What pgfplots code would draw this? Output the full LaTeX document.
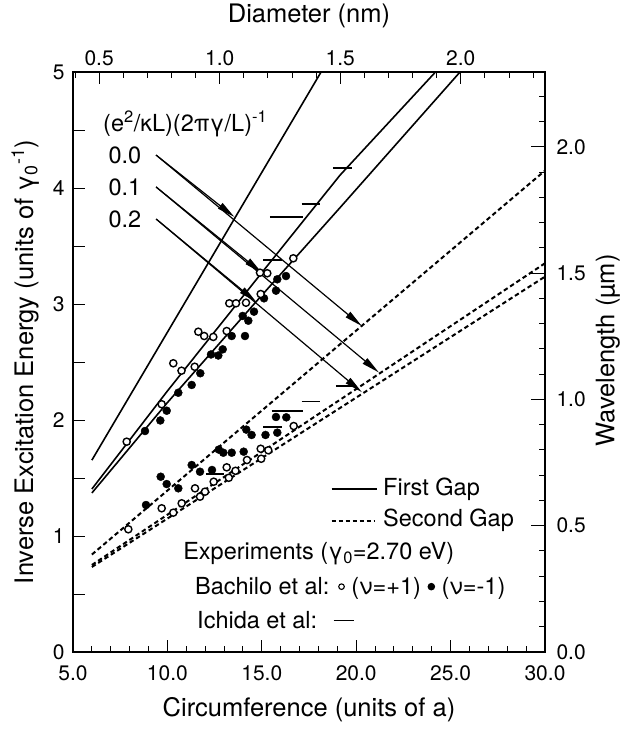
\documentclass[border=0pt]{standalone}
\usepackage{fontspec}
\setmainfont{TeX Gyre Heros}
\usepackage{pgfplots}
\pgfplotsset{compat=1.18}
\usetikzlibrary{arrows.meta}

\newcommand{\tickfont}{\fontsize{21}{21}\selectfont}
\newcommand{\labfont}{\fontsize{25.5}{25.5}\selectfont}
\newcommand{\txtfont}{\fontsize{23.5}{24}\selectfont}

\pgfplotsset{
  common/.style={
    scale only axis, width=472pt, height=580pt,
    xmin=5, xmax=30, ymin=0, ymax=5,
    tick align=inside,
    axis line style={line width=1.8pt},
    every tick/.style={line width=1pt, black},
    major tick length=12pt, minor tick length=6pt,
    /pgf/number format/assume math mode=true,
    ticklabel style={font=\tickfont},
  },
}

\begin{document}
\begin{tikzpicture}
% top axis: diameter
\begin{axis}[common,
  axis x line*=top, axis y line=none,
  xtick={6.385,12.771,19.156,25.541},
  xticklabels={0.5,1.0,1.5,2.0},
  xticklabel style={yshift=3pt},
  minor xtick={5.108,7.663,8.940,10.217,11.494,14.048,15.325,16.602,17.879,20.434,21.711,22.988,24.265,26.819,28.096,29.373},
]
\end{axis}
% right axis: wavelength
\begin{axis}[common,
  axis y line*=right, axis x line=none,
  ytick={0,1.0889,2.1777,3.2666,4.3554},
  yticklabels={0.0,0.5,1.0,1.5,2.0},
  yticklabel style={xshift=8pt},
  minor ytick={0.2178,0.4355,0.6533,0.8711,1.3066,1.5244,1.7422,1.9599,2.3955,2.6132,2.8310,3.0488,3.4843,3.7021,3.9199,4.1376,4.5732,4.7909},
  major tick length=14pt,
]
\end{axis}
% main axis
\begin{axis}[common, name=main, clip=false,
  xtick pos=left, ytick pos=left,
  xtick={5,10,...,30}, minor x tick num=4,
  xticklabel style={yshift=-10pt, /pgf/number format/.cd, fixed, fixed zerofill, precision=1},
  ytick={0,0.5,...,5},
  yticklabels={0,{},1,{},2,{},3,{},4,{},5},
  yticklabel style={xshift=-5pt},
]
% axis titles
\node[font=\labfont] at (axis description cs:0.5,-0.1) {Circumference (units of a)};
\node[font=\labfont] at (axis description cs:0.5,1.097) {Diameter (nm)};
\node[font=\labfont, rotate=90] at (axis description cs:-0.101,0.5) {Inverse Excitation Energy (units of γ\textsubscript{0}\textsuperscript{-1})};
\node[font=\labfont, rotate=90] at (axis description cs:1.133,0.52) {Wavelength (µm)};

% first gap
\addplot[black, line width=1.6pt] coordinates {(6,1.654) (18.14,5)};
\addplot[black, line width=1.6pt] coordinates {(6,1.405) (10,2.25) (15,3.27) (19.14,4.11) (24.2,5)};
\addplot[black, line width=1.6pt] coordinates {(6,1.371) (10,2.15) (14.7,3.02) (19.14,3.83) (25.5,5)};
% second gap
\addplot[black, line width=2pt, dash pattern=on 4.5pt off 3pt] coordinates {(6,0.84) (30,4.15)};
\addplot[black, line width=2pt, dash pattern=on 4.5pt off 3pt] coordinates {(6,0.75) (30,3.351)};
\addplot[black, line width=2pt, dash pattern=on 4.5pt off 3pt] coordinates {(6,0.733) (30,3.236)};

% Ichida et al
\addplot[black, line width=1.8pt, unbounded coords=jump] coordinates {
 (18.77,4.172) (19.78,4.172) (nan,nan)
 (17.11,3.862) (18.08,3.862) (nan,nan)
 (15.43,3.753) (17.20,3.753) (nan,nan)
 (15.08,3.379) (16.05,3.379) (nan,nan)
 (18.93,2.293) (19.94,2.293) (nan,nan)
 (17.11,2.159) (18.08,2.159) (nan,nan)
 (15.52,2.080) (17.20,2.080) (nan,nan)
 (15.08,1.942) (16.05,1.942) (nan,nan)
 (12.04,1.534) (13.00,1.534)
};

% Bachilo et al, nu=-1 (filled)
\addplot[only marks, mark=*, mark size=4pt, black] coordinates {
 (8.814,1.905) (9.624,1.996) (9.963,2.080) (10.577,2.235) (11.287,2.302)
 (11.742,2.403) (12.309,2.565) (12.696,2.556) (12.929,2.609) (13.406,2.724)
 (14.110,2.724) (13.988,2.897) (14.285,2.856) (14.587,2.934) (15.117,3.049)
 (15.752,3.115) (15.821,3.213) (16.282,3.241)
 (8.867,1.267) (9.645,1.511) (9.963,1.448) (10.577,1.411) (11.287,1.612)
 (11.727,1.554) (12.362,1.569) (12.722,1.745) (12.961,1.718) (13.406,1.718)
 (14.041,1.727) (14.179,1.917) (14.460,1.871) (15.196,1.871) (15.821,1.891)
 (15.752,2.026) (16.298,2.023)
};
% Bachilo et al, nu=+1 (open)
\addplot[only marks, mark=*, mark size=3.6pt, draw=black, fill=white, line width=1.4pt] coordinates {
 (7.844,1.813) (9.698,2.136) (10.312,2.489) (10.747,2.425) (11.446,2.459)
 (11.637,2.761) (11.949,2.724) (12.431,2.716) (13.141,2.767) (13.279,3.006)
 (13.633,3.006) (14.163,3.011) (14.942,3.086) (14.905,3.270) (15.291,3.265)
 (16.668,3.394)
 (7.929,1.058) (9.698,1.239) (10.312,1.201) (10.757,1.282) (11.462,1.411)
 (11.727,1.339) (11.992,1.382) (12.452,1.468) (13.141,1.592) (13.252,1.502)
 (13.607,1.562) (14.216,1.655) (14.942,1.752) (14.968,1.666) (15.344,1.739)
 (16.690,1.948)
};

% arrows
\draw[-{Triangle[length=18pt,width=7pt]}, line width=1.2pt] (axis cs:9.40,4.284) -- (axis cs:13.55,3.75);
\draw[-{Triangle[length=18pt,width=7pt]}, line width=1.2pt] (axis cs:9.40,4.284) -- (axis cs:20.30,2.81);
\draw[-{Triangle[length=18pt,width=7pt]}, line width=1.2pt] (axis cs:9.40,4.009) -- (axis cs:15.0,3.27);
\draw[-{Triangle[length=18pt,width=7pt]}, line width=1.2pt] (axis cs:9.40,4.009) -- (axis cs:21.20,2.41);
\draw[-{Triangle[length=18pt,width=7pt]}, line width=1.2pt] (axis cs:9.40,3.733) -- (axis cs:14.7,3.02);
\draw[-{Triangle[length=18pt,width=7pt]}, line width=1.2pt] (axis cs:9.40,3.733) -- (axis cs:20.30,2.24);

% in-plot texts
\node[anchor=west, inner sep=0pt, font=\txtfont] at (axis cs:6.59,4.55) {(e\textsuperscript{2}/κL)(2πγ/L)\textsuperscript{-1}};
\node[inner sep=0pt, font=\txtfont] at (axis cs:7.75,4.284) {0.0};
\node[inner sep=0pt, font=\txtfont] at (axis cs:7.75,4.009) {0.1};
\node[inner sep=0pt, font=\txtfont] at (axis cs:7.75,3.733) {0.2};

\draw[line width=1.6pt] (axis cs:18.70,1.403) -- (axis cs:21.08,1.403);
\node[anchor=west, inner sep=0pt, font=\txtfont] at (axis cs:21.42,1.403) {First Gap};
\draw[line width=1.8pt, dash pattern=on 4pt off 3pt] (axis cs:18.70,1.132) -- (axis cs:21.0,1.132);
\node[anchor=west, inner sep=0pt, font=\txtfont] at (axis cs:21.42,1.132) {Second Gap};
\node[anchor=west, inner sep=0pt, font=\txtfont] at (axis cs:10.83,0.845) {Experiments (γ\textsubscript{0}=2.70 eV)};
\node[anchor=west, inner sep=0pt, font=\txtfont] at (axis cs:11.46,0.552) {Bachilo et al: \tikz[baseline=-0.6ex]\draw[line width=1.1pt] (0,0) circle (2.8pt); (ν=+1) \tikz[baseline=-0.6ex]\fill (0,0) circle (3.8pt); (ν=-1)};
\node[anchor=west, inner sep=0pt, font=\txtfont] at (axis cs:11.57,0.276) {Ichida et al:\hspace{0.7em}\rule[0.3em]{20pt}{1.6pt}};
\end{axis}
\pgfresetboundingbox
\path (main.south west) ++(-73pt,-79pt) rectangle ++(626pt,731pt);
\end{tikzpicture}
\end{document}
